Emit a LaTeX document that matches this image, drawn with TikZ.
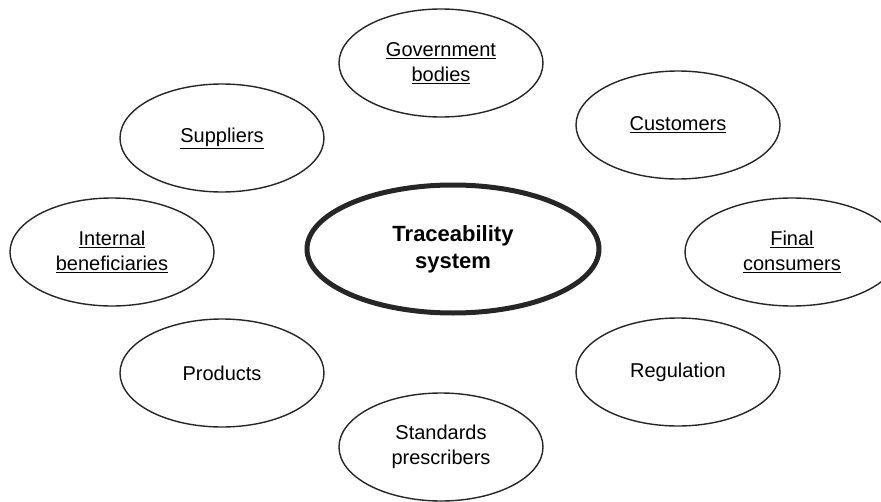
\documentclass[tikz,border=0pt]{standalone}
\usepackage{fontspec}
\setmainfont{Liberation Sans}
\usetikzlibrary{shapes.geometric}

\begin{document}
\begin{tikzpicture}[x=1pt, y=1pt,
    party/.style={draw=black!85, line width=1.4pt, ellipse, minimum width=204pt, minimum height=108pt,
        inner sep=0pt, align=center, font=\fontsize{20}{25}\selectfont},
    core/.style={draw=black!85, line width=5pt, ellipse, minimum width=292pt, minimum height=128pt,
        inner sep=0pt, align=center, font=\fontsize{22}{27}\selectfont\bfseries}]
    \clip (-453,-252) rectangle (428,249);

    % Sistema central
    \node (trace) [core] at (0,0) {Traceability \\ system};

    % Partes interesadas alrededor
    \node (gov) [party] at (-12,186) {\underline{Government} \\ \underline{bodies}};
    \node (sup) [party] at (-231,111) {\underline{Suppliers}};
    \node (cus) [party] at (225,124) {\underline{Customers}};
    \node (int) [party] at (-341,-3) {\underline{Internal} \\ \underline{beneficiaries}};
    \node (fin) [party, minimum width=214pt] at (339,-3) {\underline{Final} \\ \underline{consumers}};
    \node (prod) [party] at (-231,-124) {Products};
    \node (reg) [party] at (225,-123) {Regulation};
    \node (std) [party] at (-12,-198) {Standards \\ prescribers};
\end{tikzpicture}
\end{document}
